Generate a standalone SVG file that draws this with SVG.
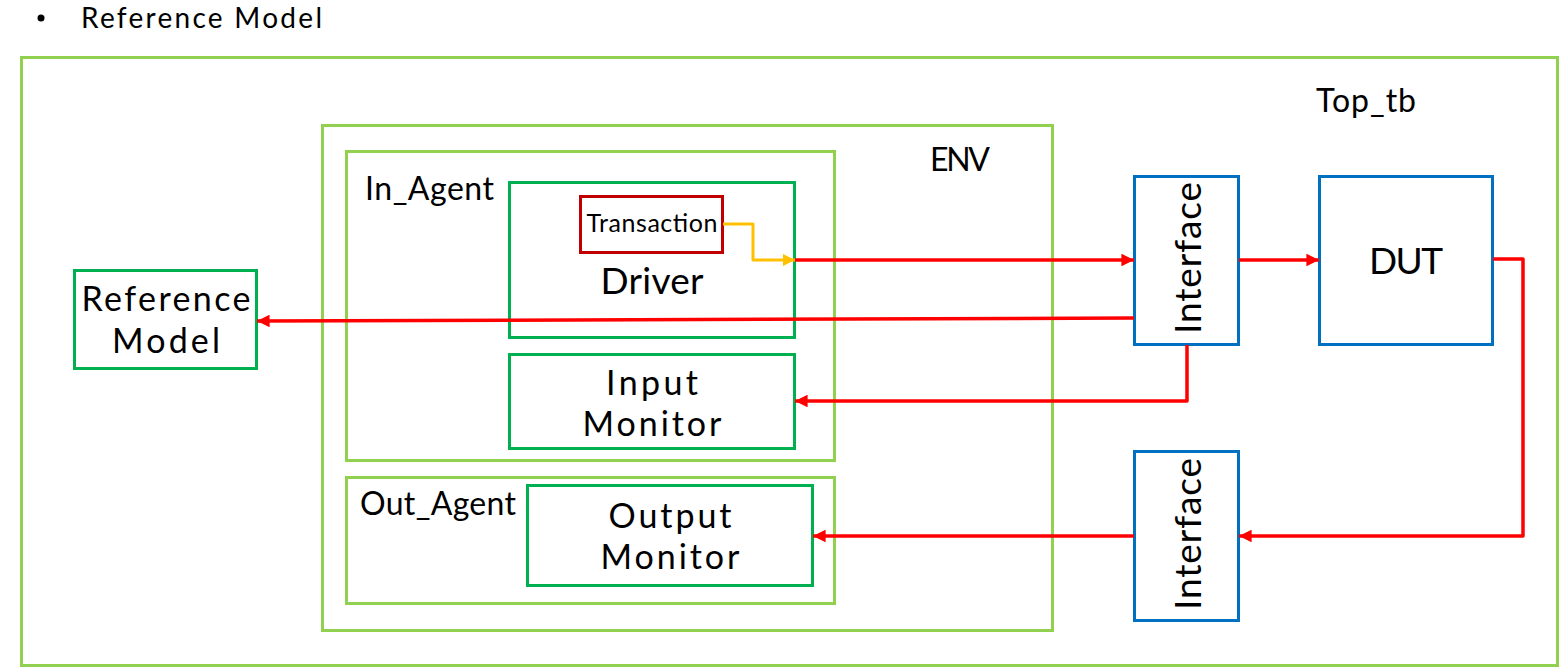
<svg xmlns="http://www.w3.org/2000/svg" width="1564" height="669" viewBox="0 0 1564 669">
<style>
text{font-family:Lato,"Open Sans","Liberation Sans",sans-serif;fill:#000}
.lg{fill:none;stroke:#92D050;stroke-width:3}
.dg{fill:#fff;stroke:#00B050;stroke-width:3}
.bl{fill:#fff;stroke:#0070C0;stroke-width:3}
.rd{fill:#fff;stroke:#C00000;stroke-width:3}
.big{font-size:34px;text-anchor:middle}
.one{font-size:37px;text-anchor:middle}
.lbl{font-size:32px}
.c{fill:none;stroke:#FF0000;stroke-width:3.5;stroke-linejoin:round}
</style>
<defs>
<marker id="ar" viewBox="0 0 10 10" refX="10" refY="5" markerWidth="3.6" markerHeight="3.6" orient="auto" markerUnits="strokeWidth"><path d="M0,0 L10,5 L0,10 z" fill="#FF0000"/></marker>
<marker id="ay" viewBox="0 0 10 10" refX="10" refY="5" markerWidth="4" markerHeight="4" orient="auto" markerUnits="strokeWidth"><path d="M0,0 L10,5 L0,10 z" fill="#FFC000"/></marker>
</defs>
<g id="heading">
<circle cx="41" cy="18" r="3.5" fill="#000"/>
<text x="81" y="28" font-size="28" textLength="241">Reference Model</text>
</g>
<g id="top_tb">
<rect class="lg" x="21.5" y="57.5" width="1536" height="608"/>
<text class="lbl" x="1316" y="112" textLength="100">Top_tb</text>
</g>
<g id="env">
<rect class="lg" x="322.5" y="125.5" width="730" height="505"/>
<text class="lbl" x="930" y="171" textLength="60">ENV</text>
</g>
<g id="in_agent">
<rect class="lg" x="346.5" y="151.5" width="488" height="309"/>
<text class="lbl" x="365" y="200" textLength="129">In_Agent</text>
</g>
<g id="out_agent">
<rect class="lg" x="346.5" y="477.5" width="488" height="126"/>
<text class="lbl" x="360" y="515" textLength="156">Out_Agent</text>
</g>
<g id="driver">
<rect class="dg" x="509.5" y="182.5" width="285" height="155"/>
<text class="one" x="652" y="294" textLength="103">Driver</text>
</g>
<g id="transaction">
<rect class="rd" x="580.5" y="196.5" width="142" height="56"/>
<text x="652" y="232" font-size="25" text-anchor="middle" textLength="131">Transaction</text>
</g>
<g id="input_monitor">
<rect class="dg" x="509.5" y="354.5" width="285" height="94"/>
<text class="big"><tspan x="652" y="395" textLength="92">Input</tspan><tspan x="652" y="436" textLength="139">Monitor</tspan></text>
</g>
<g id="output_monitor">
<rect class="dg" x="527.5" y="485.5" width="285" height="100"/>
<text class="big"><tspan x="670" y="528" textLength="123">Output</tspan><tspan x="670" y="569" textLength="139">Monitor</tspan></text>
</g>
<g id="reference_model">
<rect class="dg" x="74.5" y="270.5" width="182" height="98"/>
<text class="big"><tspan x="166" y="311" textLength="169">Reference</tspan><tspan x="166" y="353" textLength="108">Model</tspan></text>
</g>
<g id="interface1">
<rect class="bl" x="1134.5" y="176.5" width="104" height="168"/>
<text class="one" transform="translate(1201,258) rotate(-90)" x="0" y="0" textLength="152">Interface</text>
</g>
<g id="dut">
<rect class="bl" x="1319.5" y="176.5" width="173" height="168"/>
<text class="one" x="1406" y="274" textLength="74">DUT</text>
</g>
<g id="interface2">
<rect class="bl" x="1134.5" y="451.5" width="104" height="169"/>
<text class="one" transform="translate(1201,534) rotate(-90)" x="0" y="0" textLength="152">Interface</text>
</g>
<g id="connectors">
<path d="M723,224 H753 V260 H795" fill="none" stroke="#FFC000" stroke-width="3" stroke-linejoin="round" marker-end="url(#ay)"/>
<path class="c" d="M795,260 H1134" marker-end="url(#ar)"/>
<path class="c" d="M1239,260 H1319" marker-end="url(#ar)"/>
<path class="c" d="M1493,259 H1523 V536 H1239" marker-end="url(#ar)"/>
<path class="c" d="M1134,536 H813" marker-end="url(#ar)"/>
<path class="c" d="M1134,318 L257,321" marker-end="url(#ar)"/>
<path class="c" d="M1187,345 V401 H795" marker-end="url(#ar)"/>
</g>
</svg>
